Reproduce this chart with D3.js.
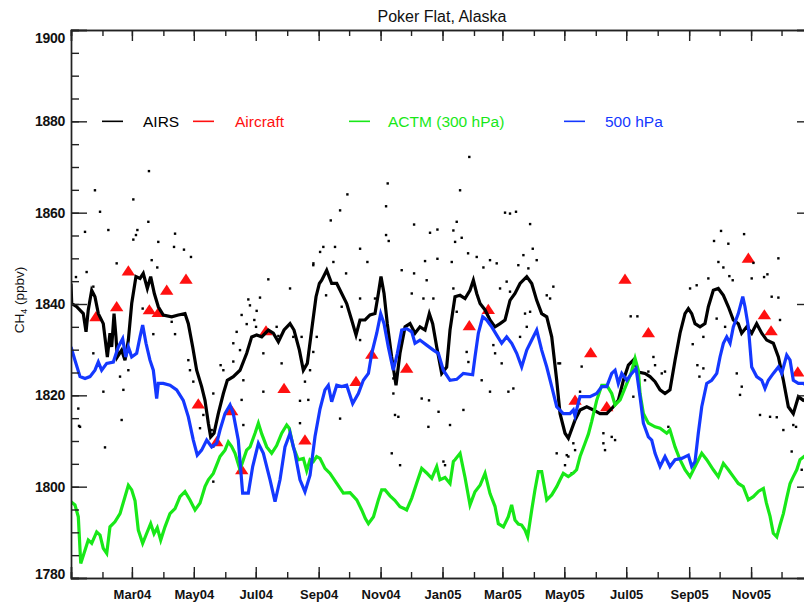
<!DOCTYPE html>
<html>
<head>
<meta charset="utf-8">
<script src="https://cdn.jsdelivr.net/npm/d3@7"></script>
<style>
  body { margin: 0; background: #fff; }
  svg text { font-family: "Liberation Sans", Arial, Helvetica, sans-serif; }
</style>
</head>
<body>
<div id="chart"></div>
<script>
// days since 1 Jan 2004, CH4 in ppbv
const airsLine = [[0,1844.5],[0.7,1840.1],[5.6,1839.4],[12.1,1837.9],[14.8,1833.9],[17,1838.7],[20.4,1843.0],[23.6,1841.6],[26.9,1837.9],[31.8,1835.7],[35.8,1828.4],[38.4,1833.6],[40.1,1830.6],[42.4,1837.9],[44.3,1832.8],[45.6,1828.4],[49.9,1829.9],[53.2,1827.7],[56.5,1832.1],[59.8,1840.1],[64,1846.0],[68,1845.6],[71.2,1846.7],[75.2,1843.4],[78.5,1846.0],[82.1,1842.3],[86,1839.4],[90.9,1837.6],[99.2,1837.2],[105.7,1837.6],[112.3,1837.9],[115.6,1835.7],[119.9,1830.6],[123.8,1825.5],[128.7,1821.9],[132,1818.9],[135.3,1813.9],[137.6,1810.9],[140.9,1811.7],[145.1,1816.0],[150.1,1820.4],[154,1823.3],[159.9,1824.1],[166.5,1825.5],[173.1,1829.2],[178,1832.8],[182.9,1833.2],[187.9,1832.8],[194.4,1834.3],[199.3,1833.6],[204.3,1831.7],[209.9,1834.3],[215.8,1835.7],[219.7,1834.3],[225,1829.9],[228.9,1825.5],[232.8,1827.0],[237.1,1834.3],[241.4,1841.6],[244.7,1844.5],[247,1845.2],[251.9,1847.4],[256.8,1844.5],[261.8,1844.5],[266.7,1842.3],[271.6,1840.1],[276.5,1836.5],[280.8,1833.2],[284.7,1836.5],[289.7,1836.5],[294.6,1837.6],[299.5,1837.9],[302.8,1842.3],[305.4,1846.0],[308.4,1842.3],[311.6,1835.7],[315.9,1828.4],[320.2,1822.2],[324.1,1829.2],[329.1,1835.0],[334,1835.7],[338.9,1833.6],[343.8,1835.0],[348.8,1834.3],[353,1837.9],[356.3,1835.7],[360.3,1830.6],[365.2,1824.8],[370.1,1826.2],[373.4,1834.3],[378.3,1841.6],[383.3,1841.9],[388.2,1841.2],[393.1,1843.0],[396.4,1845.2],[399.7,1842.3],[403,1840.1],[407.9,1838.7],[412.8,1836.5],[417.7,1835.0],[422.7,1835.7],[427.6,1836.5],[432.5,1840.8],[437.4,1842.3],[442.4,1844.5],[449,1846.0],[453.9,1844.5],[458.8,1840.8],[463.7,1837.9],[468.7,1837.2],[473.6,1832.8],[478.5,1823.3],[481.8,1816.0],[486.7,1811.7],[490,1810.6],[496.6,1814.6],[501.5,1816.8],[508.1,1817.5],[514.6,1816.8],[521.2,1816.0],[527.8,1816.0],[534.3,1817.5],[539.2,1818.9],[544.2,1823.3],[549.1,1826.6],[554,1827.7],[558.9,1825.1],[565.5,1824.8],[570.4,1824.1],[575.4,1823.0],[580.3,1821.2],[585.2,1820.4],[590.1,1821.2],[595.1,1827.7],[600,1833.6],[604.9,1837.9],[608.2,1839.0],[611.5,1837.9],[614.8,1835.7],[619.7,1835.0],[624.6,1835.7],[627.9,1839.4],[632.8,1843.0],[637.7,1843.4],[642.7,1841.9],[647.6,1839.4],[652.5,1836.5],[657.4,1835.7],[660.7,1833.6],[665.7,1835.0],[670.6,1833.6],[675.5,1835.7],[680.5,1833.6],[685.4,1832.1],[691.9,1831.4],[696.9,1828.4],[701.8,1823.3],[706.7,1817.5],[711.6,1816.0],[716.6,1819.7],[721.5,1818.9],[730,1819.5]];

const airsDots = [[76.8,1869.1],[392.4,1872.2],
  [23.6,1864.9],[28.6,1860.2],[13.8,1855.8],[36.8,1856.2],[61.4,1862.9],[76.2,1858.0],[65.4,1856.2],[64.0,1855.1],[61.4,1854.1],[86.0,1853.6],[102.5,1855.4],[101.5,1852.5],[111.3,1851.9],[118.2,1850.3],[79.5,1849.6],[85.0,1848.0],[45.0,1848.9],[15.4,1847.0],[4.9,1845.9],[22.0,1843.8],[194.4,1845.4],[215.8,1843.4],[186.2,1841.4],[174.7,1841.0],[176.3,1839.7],[238.7,1848.5],[168.1,1837.6],[182.9,1838.5],[180.6,1836.5],[173.1,1835.6],[182.3,1835.0],[202.6,1835.0],[219.0,1832.8],[227.2,1832.8],[204.3,1833.0],[163.2,1833.9],[159.9,1831.4],[70.6,1839.0],[81.1,1833.4],[99.2,1836.1],[102.5,1833.4],[22.0,1829.2],[58.1,1829.5],[31.9,1820.8],[7.2,1817.1],[8.9,1813.1],[49.9,1814.6],[33.5,1808.6],[51.6,1821.2],[48.3,1824.1],[56.5,1825.5],[115.6,1827.7],[120.5,1823.0],[117.2,1825.5],[140.2,1820.4],[130.4,1815.7],[127.1,1812.8],[138.6,1812.4],[140.2,1808.8],[147.4,1826.6],[150.1,1825.5],[159.9,1827.4],[166.5,1829.9],[169.8,1823.3],[168.1,1819.0],[169.8,1813.5],[189.5,1820.8],[189.5,1829.2],[207.5,1827.0],[233.8,1819.0],[225.6,1818.8],[230.5,1823.0],[140.2,1801.1],[238.7,1829.5],[7.9,1813.3],[225.6,1813.9],
  [312.0,1866.4],[272.3,1864.0],[383.3,1864.9],[265.1,1860.5],[310.4,1861.4],[255.9,1858.3],[380.0,1858.0],[353.7,1855.6],[361.0,1856.3],[376.7,1856.1],[384.9,1854.5],[378.4,1853.6],[310.4,1855.1],[313.0,1853.8],[338.0,1857.4],[432.5,1859.8],[427.6,1860.0],[438.4,1860.2],[452.3,1857.5],[445.7,1850.7],[454.9,1852.1],[458.8,1849.6],[450.6,1847.8],[440.7,1848.5],[248.6,1852.5],[260.1,1852.5],[245.4,1851.4],[258.5,1849.2],[284.8,1852.1],[271.0,1846.7],[292.0,1849.2],[361.0,1849.9],[348.8,1849.4],[375.1,1849.2],[391.2,1851.1],[399.7,1850.3],[406.3,1848.0],[412.8,1849.6],[419.4,1848.9],[325.8,1847.4],[338.0,1846.7],[350.4,1845.2],[238.8,1848.9],[251.3,1841.9],[266.7,1839.4],[284.8,1841.2],[299.5,1841.2],[335.7,1842.3],[347.2,1841.2],[357.0,1841.2],[376.7,1843.4],[380.0,1838.3],[422.7,1843.4],[429.2,1844.9],[432.5,1842.7],[468.7,1841.9],[472.0,1841.2],[475.2,1843.8],[452.3,1838.3],[447.3,1837.9],[284.8,1832.1],[242.1,1832.8],[235.5,1825.5],[265.1,1814.9],[317.6,1823.7],[317.6,1820.4],[345.5,1819.3],[352.7,1818.9],[362.1,1816.4],[319.2,1815.7],[322.5,1815.3],[352.1,1813.1],[373.4,1813.5],[386.6,1816.8],[404.6,1823.3],[389.8,1829.5],[391.5,1827.3],[416.1,1831.0],[417.8,1829.2],[424.3,1827.0],[412.8,1820.8],[430.9,1820.8],[435.8,1821.5],[449.0,1835.0],[442.4,1832.8],[480.2,1827.0],[478.5,1807.3],[488.4,1806.9],[486.7,1804.7],[316.0,1807.3],[324.2,1804.7],[366.9,1805.5],[368.5,1804.7],[493.3,1802.9],
  [640.4,1856.0],[663.1,1855.3],[633.5,1853.8],[647.6,1853.2],[637.8,1849.2],[642.7,1848.0],[672.3,1849.0],[696.9,1850.0],[648.6,1846.1],[651.9,1845.2],[627.9,1845.6],[670.6,1845.6],[682.8,1845.9],[686.1,1846.5],[616.4,1844.1],[609.9,1843.4],[690.3,1841.6],[696.9,1841.4],[551.4,1837.3],[558.0,1837.3],[636.1,1836.8],[644.4,1835.0],[698.5,1836.5],[612.5,1831.2],[623.0,1832.8],[623.0,1825.9],[617.1,1826.6],[619.1,1824.1],[573.8,1828.4],[575.4,1826.6],[568.8,1825.2],[582.0,1824.8],[585.2,1825.2],[655.9,1824.8],[660.8,1821.9],[659.1,1820.1],[481.8,1827.0],[503.1,1826.3],[565.5,1823.3],[554.0,1819.7],[501.5,1820.8],[678.8,1815.7],[688.7,1815.3],[695.3,1815.2],[711.6,1813.5],[714.3,1813.1],[701.8,1812.4],[494.9,1809.5],[496.6,1808.0],[490.0,1806.6],[524.5,1811.7],[532.7,1810.9],[536.0,1810.2],[526.1,1808.0],[524.5,1809.5],[588.5,1813.1],[710.0,1807.7],[719.9,1803.7]];

const aircraft = [[24.6,1837.2],[45,1839.4],[56.5,1847.2],[77.2,1838.7],[86,1838.1],[94.3,1843.0],[113.3,1845.4],[125.4,1818.1],[143.5,1809.8],[158.3,1816.6],[168.2,1803.7],[192.1,1834.1],[209.9,1821.5],[230.5,1810.2],[280.8,1823.0],[296.3,1829.0],[330.7,1825.9],[392.4,1835.2],[411.1,1838.8],[496.6,1818.9],[512,1829.3],[527.8,1817.5],[545.8,1845.4],[568.8,1833.7],[667.3,1850.0],[683.1,1837.6],[689.7,1834.1],[716,1825.1]];

const actm300 = [[0,1796.7],[3.9,1796.0],[7.2,1793.4],[9.6,1783.2],[13.8,1786.1],[17,1788.3],[20.4,1787.6],[25.3,1790.1],[28.6,1789.4],[31.8,1786.5],[35.2,1785.4],[38.4,1791.2],[43.3,1792.3],[48.3,1794.1],[53.2,1797.8],[56.5,1800.3],[59.8,1799.3],[63.1,1796.9],[66.3,1790.5],[70.6,1787.6],[74.6,1789.8],[78.5,1791.9],[81.8,1789.7],[85,1791.0],[88.4,1788.3],[92.6,1791.2],[97.5,1794.1],[102.5,1795.2],[107.4,1797.8],[112.3,1798.9],[117.2,1797.1],[122.2,1794.9],[127.1,1796.4],[132,1800.0],[135.3,1801.5],[140.2,1802.9],[146.8,1806.6],[151.7,1808.0],[155,1809.8],[158.3,1808.8],[161.6,1807.3],[166.5,1803.7],[169.8,1805.9],[173,1808.0],[176.4,1808.7],[181.3,1811.7],[184.6,1813.9],[188,1811.5],[192.8,1808.7],[197.7,1807.3],[202.6,1809.0],[207.6,1811.7],[212.5,1813.5],[215,1812.8],[219,1808.7],[223.9,1805.9],[228.9,1806.2],[232.2,1803.5],[235.5,1805.9],[238.7,1805.5],[242,1806.6],[245.3,1806.2],[250.2,1804.0],[255.2,1802.9],[261.8,1800.7],[268.3,1798.6],[274.9,1798.7],[281.5,1797.1],[286.4,1794.9],[290,1793.0],[293,1791.9],[298,1793.4],[302.8,1797.1],[306.1,1799.3],[309.4,1799.3],[314.3,1798.0],[319,1797.0],[324.1,1795.6],[329.1,1795.1],[330.7,1794.9],[335.7,1797.5],[340.6,1800.8],[345.5,1804.0],[350.4,1803.0],[355.4,1801.8],[360.3,1804.4],[363.5,1801.5],[368.5,1802.0],[373.4,1800.7],[376.7,1805.5],[378.3,1805.9],[383.3,1807.3],[388.2,1802.0],[393.1,1796.0],[398,1798.9],[403,1800.3],[407.9,1802.9],[412.8,1798.5],[417.7,1795.7],[421,1791.9],[426,1791.2],[430.8,1793.4],[434.1,1796.0],[437.4,1792.7],[440.7,1791.8],[444,1791.6],[447.3,1790.5],[449.9,1789.0],[453.9,1794.9],[457.1,1799.3],[460.4,1803.3],[463.7,1803.3],[468.7,1797.1],[473.6,1798.2],[478.5,1800.0],[481.8,1801.5],[485,1802.9],[489.9,1802.2],[494.9,1803.0],[498.1,1803.7],[501.5,1806.6],[506.4,1809.5],[509.7,1811.5],[513,1814.3],[517.9,1818.9],[522.9,1822.2],[527.8,1822.2],[532.7,1820.4],[536,1817.9],[541,1819.0],[546.8,1822.2],[551.7,1824.8],[555.7,1828.1],[558.9,1825.5],[560.6,1820.4],[563.9,1816.0],[568.8,1813.9],[575.4,1813.1],[580.3,1812.8],[586.9,1811.7],[590.1,1812.4],[595.1,1808.7],[600,1805.9],[604.9,1803.7],[609.8,1802.2],[614.8,1804.4],[621.4,1807.3],[626.3,1805.9],[632.8,1803.7],[637.7,1802.2],[642.7,1805.1],[647.6,1803.7],[652.5,1802.2],[657.4,1800.7],[662.3,1800.0],[667.3,1797.1],[672.2,1797.8],[677.5,1799.0],[682.1,1799.6],[685,1796.5],[688.7,1793.5],[691.9,1789.8],[695.3,1789.0],[698.5,1791.6],[701.8,1794.1],[705.1,1797.5],[708.4,1800.7],[711.6,1802.2],[715,1803.7],[718.2,1805.9],[722.2,1806.6],[730,1808.0]];

const actm500 = [[0,1830.6],[3.9,1827.7],[8.9,1824.1],[13.8,1823.7],[18.7,1824.1],[23.6,1825.5],[26.9,1827.3],[30.2,1825.5],[35.2,1827.0],[41.7,1827.3],[46.6,1830.6],[50.9,1832.4],[53.9,1828.4],[56.5,1830.6],[59.8,1828.4],[64.7,1829.2],[68,1832.8],[70.6,1835.4],[73.9,1831.4],[77.8,1827.7],[81.1,1825.5],[84.4,1819.3],[86,1822.6],[90.9,1822.6],[97.5,1822.2],[104.1,1821.2],[110.6,1818.9],[115.6,1815.3],[120.5,1810.2],[124.4,1806.9],[128.7,1808.0],[133.7,1810.2],[138.6,1808.7],[143.5,1809.5],[146.8,1812.4],[151.7,1816.0],[156.7,1817.9],[159.9,1816.0],[164.8,1810.2],[169.1,1798.6],[174.7,1798.6],[179,1804.4],[184.6,1809.5],[189.5,1807.3],[196.1,1801.5],[201,1796.7],[205.9,1801.5],[210.8,1808.7],[215.8,1811.7],[220.7,1807.3],[225.6,1801.5],[230.5,1798.9],[235.5,1802.5],[240.4,1811.0],[245.3,1817.0],[250.2,1821.2],[253.5,1822.2],[256.8,1818.6],[261.8,1822.2],[266.7,1821.9],[271.6,1822.2],[277.5,1818.2],[283.1,1820.4],[288,1823.3],[293,1824.8],[296.3,1829.2],[301.2,1833.6],[305.1,1837.9],[308.4,1835.7],[312.6,1830.6],[317.5,1825.5],[321.5,1829.2],[325.8,1834.3],[330.7,1834.6],[335.7,1833.9],[338.9,1831.4],[343.8,1832.1],[350.4,1831.0],[357,1829.9],[361.9,1829.2],[366.8,1825.5],[373.4,1823.3],[380,1823.5],[386.5,1824.8],[395.7,1824.5],[398,1828.4],[401.3,1833.6],[405.6,1837.2],[409.5,1836.5],[414.5,1835.0],[419.4,1833.2],[424.3,1831.4],[429.2,1832.8],[434.2,1831.4],[439.1,1829.2],[444,1826.2],[449,1829.9],[453.9,1832.1],[458.8,1834.3],[463.7,1829.9],[468.7,1826.2],[473.6,1821.9],[478.5,1817.5],[485,1816.0],[491.6,1816.0],[494.9,1816.8],[496.5,1815.5],[501.5,1819.7],[511.3,1819.7],[517.9,1820.4],[522.9,1821.9],[527.8,1821.9],[532.7,1824.8],[536,1825.5],[539.2,1822.6],[542.6,1824.8],[547.5,1823.3],[552.4,1824.8],[556.7,1825.9],[560.6,1819.7],[563.9,1813.9],[568.8,1810.9],[572.1,1810.2],[575.4,1807.3],[580.3,1804.4],[585.2,1806.6],[590.1,1804.4],[595.1,1805.9],[601.7,1806.2],[608.2,1806.9],[611.5,1804.4],[614.8,1805.5],[618,1811.7],[621.4,1817.5],[626.3,1822.6],[631.2,1823.3],[636.2,1824.8],[639.4,1828.4],[642.7,1831.4],[646,1832.8],[649.3,1831.4],[652.5,1835.0],[657.4,1837.9],[661.8,1841.6],[664,1839.4],[667.3,1835.0],[670.6,1826.2],[675.5,1824.1],[680.5,1823.3],[683.7,1821.5],[687,1823.3],[691.9,1824.8],[696.9,1826.2],[700.2,1824.8],[705.1,1828.8],[708.4,1827.7],[711.6,1823.3],[716.6,1822.6],[721.5,1822.6],[730,1821.5]];

const yMajor = [1780, 1800, 1820, 1840, 1860, 1880, 1900];
const legendItems = [
  { name: "AIRS", color: "#000000" },
  { name: "Aircraft", color: "#ff1010" },
  { name: "ACTM (300 hPa)", color: "#18e818" },
  { name: "500 hPa", color: "#1438ff" }
];

const width = 804, height = 605;
const plot = { left: 71, right: 813, top: 30, bottom: 578 };

const t0 = Date.UTC(2004, 0, 1);
const toDate = d => new Date(t0 + d * 864e5);

const x = d3.scaleUtc()
  .domain([new Date(t0), new Date(Date.UTC(2006, 0, 1))])
  .range([plot.left, plot.right]);

const y = d3.scaleLinear()
  .domain([1780, 1900])
  .range([plot.bottom, plot.top]);

const svg = d3.select("#chart").append("svg")
  .attr("width", width)
  .attr("height", height);

svg.append("defs").append("clipPath").attr("id", "plot-clip")
  .append("rect")
  .attr("x", plot.left).attr("y", plot.top)
  .attr("width", plot.right - plot.left)
  .attr("height", plot.bottom - plot.top);

// title
svg.append("text")
  .attr("x", (plot.left + plot.right) / 2)
  .attr("y", 22)
  .attr("text-anchor", "middle")
  .attr("font-size", 16)
  .attr("fill", "#111")
  .text("Poker Flat, Alaska");

// y axis title
const yTitle = svg.append("text")
  .attr("transform", "translate(24,300) rotate(-90)")
  .attr("text-anchor", "middle")
  .attr("font-size", 13.5)
  .attr("fill", "#111");
yTitle.append("tspan").text("CH");
yTitle.append("tspan").attr("font-size", 9).attr("dy", 3).text("4");
yTitle.append("tspan").attr("dy", -3).text(" (ppbv)");

// data
const g = svg.append("g").attr("clip-path", "url(#plot-clip)");

const line = d3.line()
  .x(d => x(toDate(d[0])))
  .y(d => y(d[1]));

g.append("g").selectAll("path")
  .data(aircraft)
  .join("path")
  .attr("transform", d => `translate(${x(toDate(d[0]))},${y(d[1])})`)
  .attr("d", "M0,-5.8L6.7,4.4L-6.7,4.4Z")
  .attr("fill", legendItems[1].color);

g.append("g").selectAll("rect")
  .data(airsDots)
  .join("rect")
  .attr("x", d => x(toDate(d[0])) - 1.2)
  .attr("y", d => y(d[1]) - 1.2)
  .attr("width", 2.4)
  .attr("height", 2.4)
  .attr("fill", "#000");

g.append("path").datum(airsLine)
  .attr("d", line).attr("fill", "none")
  .attr("stroke", legendItems[0].color).attr("stroke-width", 3.2);

g.append("path").datum(actm300)
  .attr("d", line).attr("fill", "none")
  .attr("stroke", legendItems[2].color).attr("stroke-width", 3.2);

g.append("path").datum(actm500)
  .attr("d", line).attr("fill", "none")
  .attr("stroke", legendItems[3].color).attr("stroke-width", 3.2);

// axes
const minorMonths = d3.utcMonth.range(new Date(t0), new Date(Date.UTC(2006, 0, 2)));
const majorMonths = minorMonths.filter(d => d.getUTCMonth() % 2 === 0);
const labelMonths = majorMonths.slice(1, -1);
const fmt = d3.utcFormat("%b%y");
const yMinor = d3.range(1780, 1901, 5);

function styleAxis(sel) {
  sel.select(".domain").attr("stroke", "#222").attr("stroke-width", 1.4);
  sel.selectAll(".tick line").attr("stroke", "#222").attr("stroke-width", 1.4);
}

// bottom
svg.append("g").attr("transform", `translate(0,${plot.bottom})`)
  .call(d3.axisBottom(x).tickValues(minorMonths).tickSize(-6).tickFormat(""))
  .call(styleAxis);
const xb = svg.append("g").attr("transform", `translate(0,${plot.bottom})`)
  .call(d3.axisBottom(x).tickValues(majorMonths).tickSize(-11).tickPadding(12)
    .tickFormat(d => labelMonths.some(m => +m === +d) ? fmt(d) : ""))
  .call(styleAxis);
xb.selectAll("text").attr("font-size", 13).attr("font-weight", "bold")
  .attr("fill", "#111").attr("font-family", "\"Liberation Sans\", Arial, sans-serif");

// top
svg.append("g").attr("transform", `translate(0,${plot.top})`)
  .call(d3.axisTop(x).tickValues(minorMonths).tickSize(-6).tickFormat(""))
  .call(styleAxis);
svg.append("g").attr("transform", `translate(0,${plot.top})`)
  .call(d3.axisTop(x).tickValues(majorMonths).tickSize(-11).tickFormat(""))
  .call(styleAxis);

// left
svg.append("g").attr("transform", `translate(${plot.left},0)`)
  .call(d3.axisLeft(y).tickValues(yMinor).tickSize(-8).tickFormat(""))
  .call(styleAxis);
const yl = svg.append("g").attr("transform", `translate(${plot.left},0)`)
  .call(d3.axisLeft(y).tickValues(yMajor).tickSize(-16).tickPadding(6).tickFormat(d3.format("d")))
  .call(styleAxis);
yl.selectAll("text").attr("font-size", 14).attr("font-weight", "bold")
  .attr("fill", "#111").attr("letter-spacing", -0.3)
  .attr("font-family", "\"Liberation Sans\", Arial, sans-serif");
yl.selectAll(".tick").filter(d => d === 1900).select("text").attr("y", 8);
yl.selectAll(".tick").filter(d => d === 1780).select("text").attr("y", -4);

// right
svg.append("g").attr("transform", `translate(${plot.right},0)`)
  .call(d3.axisRight(y).tickValues(yMinor).tickSize(-8).tickFormat(""))
  .call(styleAxis);
svg.append("g").attr("transform", `translate(${plot.right},0)`)
  .call(d3.axisRight(y).tickValues(yMajor).tickSize(-16).tickFormat(""))
  .call(styleAxis);

// legend
const legendPos = [
  { lx: 102, tx: 143 },
  { lx: 193, tx: 235 },
  { lx: 349, tx: 388 },
  { lx: 564, tx: 605 }
];
const legendY = y(1880);
const lg = svg.append("g");
legendItems.forEach((item, i) => {
  lg.append("line")
    .attr("x1", legendPos[i].lx).attr("x2", legendPos[i].lx + 21)
    .attr("y1", legendY).attr("y2", legendY)
    .attr("stroke", item.color).attr("stroke-width", 1.6);
  lg.append("text")
    .attr("x", legendPos[i].tx).attr("y", legendY + 5.5)
    .attr("font-size", 15.5)
    .attr("fill", item.color)
    .text(item.name);
});
</script>
</body>
</html>
